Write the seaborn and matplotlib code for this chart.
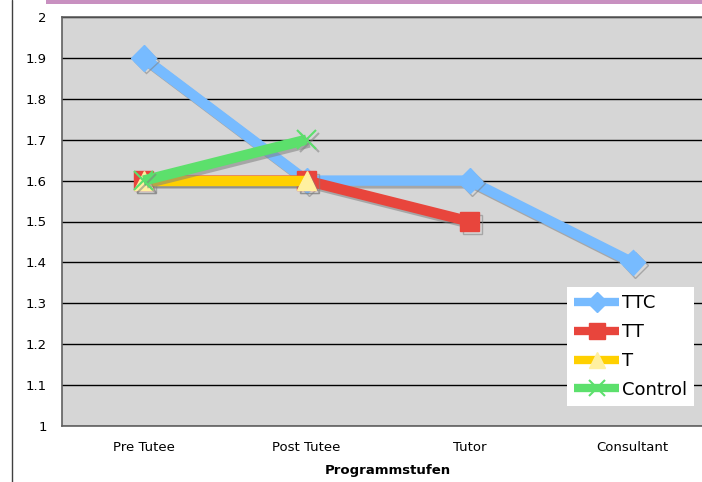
import numpy as np
import pandas as pd
import seaborn as sns
import matplotlib
matplotlib.use("Agg")
import matplotlib.pyplot as plt
import matplotlib.patheffects as pe
from matplotlib.patches import Rectangle
from matplotlib.lines import Line2D

categories = ["Pre Tutee", "Post Tutee", "Tutor", "Consultant"]
ttc = [1.9, 1.6, 1.6, 1.4]
tt = [1.6, 1.6, 1.5, np.nan]
t = [1.6, 1.6, np.nan, np.nan]
control = [1.6, 1.7, np.nan, np.nan]
series_names = ["TTC", "TT", "T", "Control"]
y_ticks = [1, 1.1, 1.2, 1.3, 1.4, 1.5, 1.6, 1.7, 1.8, 1.9, 2]
x_label = "Programmstufen"

sns.set_theme(style="white")
plt.rcParams['font.family'] = ['DejaVu Sans']
plt.rcParams['text.color'] = 'black'
plt.rcParams['axes.labelcolor'] = 'black'
plt.rcParams['xtick.color'] = 'black'
plt.rcParams['ytick.color'] = 'black'

fig = plt.figure(figsize=(7.02, 4.82), dpi=100)
ax = fig.add_axes([62/702, 56/482, 652/702, 409/482])
ax.set_facecolor("#D6D6D6")

df = pd.DataFrame({"stage": np.arange(len(categories))})
for name, vals in zip(series_names, [ttc, tt, t, control]):
    df[name] = vals

styles = {
    "TTC": dict(color="#77BBFF", marker="D", mfc="#77BBFF", mec="#77BBFF", ms=13, mew=1),
    "TT": dict(color="#E8453C", marker="s", mfc="#E8453C", mec="#E8453C", ms=14, mew=1),
    "T": dict(color="#FFD000", marker="^", mfc="#FFF0A0", mec="#FFF0A0", ms=14, mew=1),
    "Control": dict(color="#5CE06C", marker="x", mfc="#5CE06C", mec="#5CE06C", ms=14, mew=1.5),
}

shadow = [pe.SimpleLineShadow(offset=(2, -2), shadow_color="#808080", alpha=0.55), pe.Normal()]
for i, name in enumerate(series_names):
    s = styles[name]
    sub = df[["stage", name]].dropna()
    sns.lineplot(data=sub, x="stage", y=name, ax=ax, color=s["color"], linewidth=7.5,
                 marker=s["marker"], markersize=s["ms"], markerfacecolor=s["mfc"],
                 markeredgecolor=s["mec"], markeredgewidth=s["mew"], legend=False, zorder=3 + i)
    ln = ax.lines[-1]
    ln.set_path_effects(shadow)
    ln.set_solid_joinstyle("miter")
    ln.set_solid_capstyle("butt")

ax.set_xlim(-0.5, 3.5)
ax.set_ylim(1, 2)
ax.set_yticks(y_ticks)
ax.set_yticklabels([f"{v:g}" for v in y_ticks], fontsize=9.5)
ax.yaxis.grid(True, color="black", linewidth=1)
ax.set_axisbelow(True)
ax.set_xticks([0.5, 1.5, 2.5])
ax.set_xticklabels([])
ax.set_xticks(range(len(categories)), minor=True)
ax.set_xticklabels(categories, minor=True, fontsize=9.5)
ax.tick_params(axis="x", which="major", direction="out", length=5, width=1, color="#606060")
ax.tick_params(axis="x", which="minor", length=0, pad=11)
ax.tick_params(axis="y", direction="out", length=5, width=1, color="#606060", pad=6)
for sp in ax.spines.values():
    sp.set_color("#606060")
    sp.set_linewidth(1.2)
ax.set_xlabel(x_label, fontsize=9.5, fontweight="bold", labelpad=7)
ax.set_ylabel("")

handles = []
for name in series_names:
    s = styles[name]
    handles.append(Line2D([0], [0], color=s["color"], linewidth=6, marker=s["marker"],
                          markersize=s["ms"] * 0.8, markerfacecolor=s["mfc"], markeredgecolor=s["mec"],
                          markeredgewidth=s["mew"], solid_capstyle="butt"))
leg = ax.legend(handles, series_names, loc="upper left", bbox_to_anchor=(567/702, 1 - 287/482),
                bbox_transform=fig.transFigure, frameon=True, fancybox=False, fontsize=13,
                handlelength=2.5, handletextpad=0.15, borderpad=0.4, labelspacing=0.6,
                borderaxespad=0, framealpha=1)
leg.get_frame().set_facecolor("white")
leg.get_frame().set_edgecolor("white")
leg.get_frame().set_linewidth(0)
leg.set_zorder(20)

fig.patches.append(Rectangle((46/702, 478/482), 1, 4/482, transform=fig.transFigure,
                             facecolor="#C890C0", edgecolor="none", zorder=0))
fig.lines.append(Line2D([12/702, 12/702], [0, 1], transform=fig.transFigure, color="#404040", linewidth=1))

fig.savefig("out.png", dpi=100)
